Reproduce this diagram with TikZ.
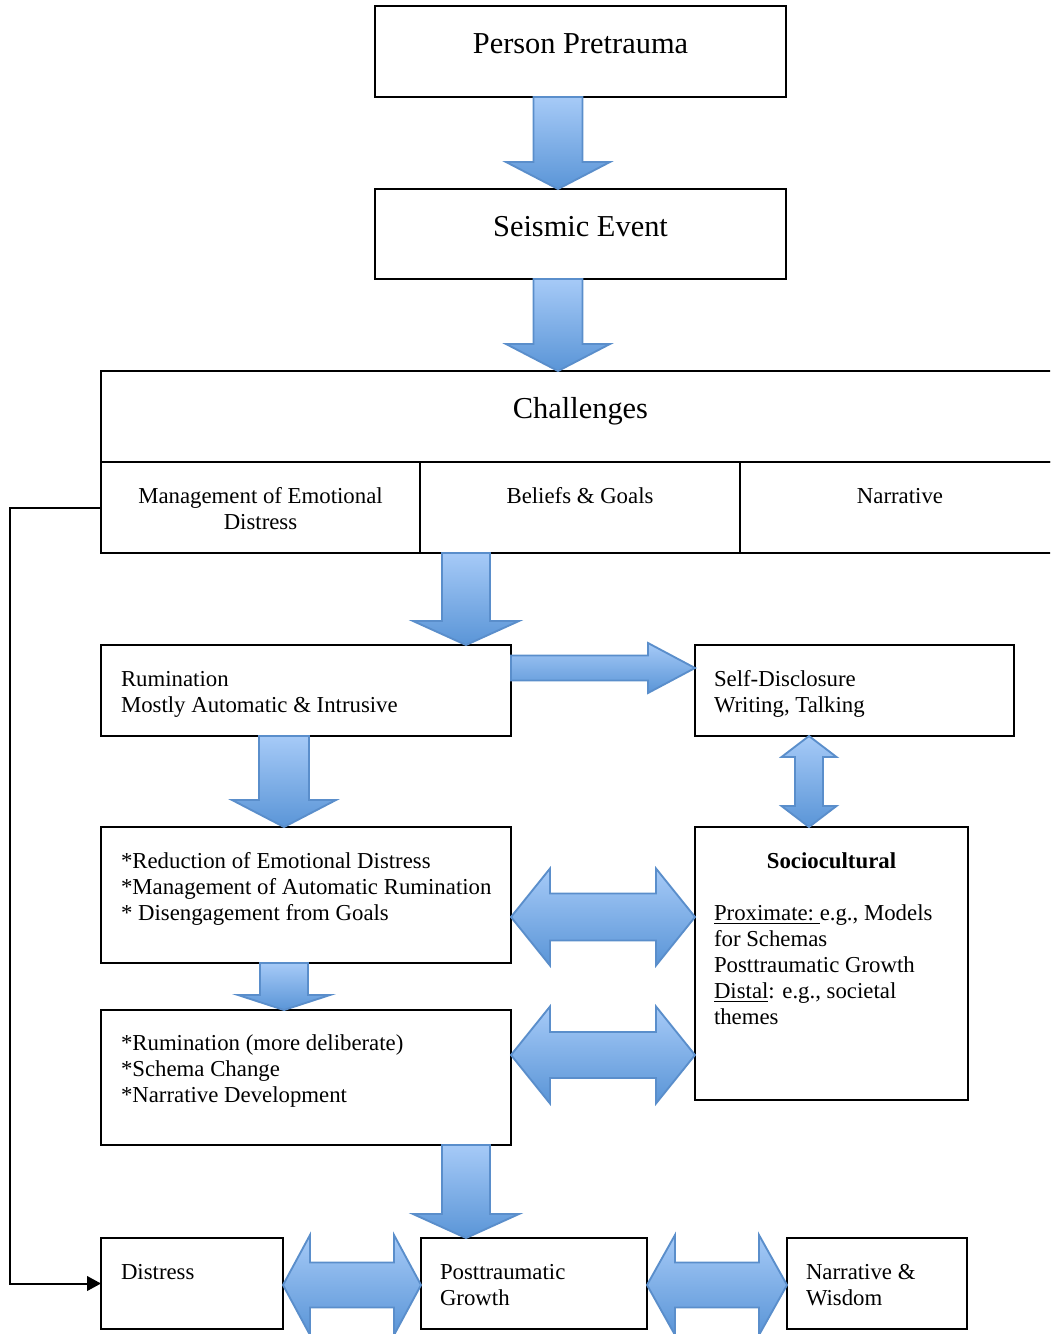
\documentclass[tikz,border=0pt]{standalone}
\usepackage{fontspec}
\setmainfont{Liberation Serif}
\usetikzlibrary{calc,arrows.meta}
\definecolor{arrTop}{HTML}{A6CAF7}
\definecolor{arrBot}{HTML}{5A95D7}
\definecolor{arrEdge}{HTML}{5A8ECB}
\tikzset{
 box/.style={draw, line width=1.5pt, anchor=north west, inner sep=0pt, outer sep=0pt},
 barrow/.style={top color=arrTop, bottom color=arrBot, draw=arrEdge, line width=1.4pt, line join=miter},
 txt/.style={font=\fontsize{17.1}{19.5}\selectfont, inner sep=0pt, outer sep=0pt, anchor=north west, align=left},
 big/.style={font=\fontsize{22.8}{27}\selectfont, inner sep=0pt, anchor=base},
 conn/.style={line width=1.5pt, -{Triangle[length=10.5pt,width=11pt]}},
}
% box: name, x1, y1, x2, y2 (pixels)
\newcommand\bx[5]{\node[box, minimum width={(#4-#2)*0.75pt}, minimum height={(#5-#3)*0.75pt}] (#1) at (#2,#3) {};}
% block arrow down: from, to, x, shaft half width, head half width, head length
\newcommand\bdown[6]{\path[barrow] let \p1=(#1), \p2=(#2), \p3=(#3,0), \p4=(#4,#6), \p5=(#5,0) in
 (\x3-\x4,\y1) -- (\x3+\x4,\y1) -- (\x3+\x4,\y2-\y4) -- (\x3+\x5,\y2-\y4) -- (\x3,\y2) -- (\x3-\x5,\y2-\y4) -- (\x3-\x4,\y2-\y4) -- cycle;}
% block arrow right: from, to, y, shaft half height, head half height, head length
\newcommand\bright[6]{\path[barrow] let \p1=(#1), \p2=(#2), \p3=(0,#3), \p4=(#6,#4), \p5=(0,#5) in
 (\x1,\y3-\y4) -- (\x2-\x4,\y3-\y4) -- (\x2-\x4,\y3-\y5) -- (\x2,\y3) -- (\x2-\x4,\y3+\y5) -- (\x2-\x4,\y3+\y4) -- (\x1,\y3+\y4) -- cycle;}
% double horizontal
\newcommand\bdoubleh[6]{\path[barrow] let \p1=(#1), \p2=(#2), \p3=(0,#3), \p4=(#6,#4), \p5=(0,#5) in
 (\x1,\y3) -- (\x1+\x4,\y3-\y5) -- (\x1+\x4,\y3-\y4) -- (\x2-\x4,\y3-\y4) -- (\x2-\x4,\y3-\y5) -- (\x2,\y3) -- (\x2-\x4,\y3+\y5) -- (\x2-\x4,\y3+\y4) -- (\x1+\x4,\y3+\y4) -- (\x1+\x4,\y3+\y5) -- cycle;}
% double vertical
\newcommand\bdoublev[6]{\path[barrow] let \p1=(#1), \p2=(#2), \p3=(#3,0), \p4=(#4,#6), \p5=(#5,0) in
 (\x3,\y1) -- (\x3+\x5,\y1+\y4) -- (\x3+\x4,\y1+\y4) -- (\x3+\x4,\y2-\y4) -- (\x3+\x5,\y2-\y4) -- (\x3,\y2) -- (\x3-\x5,\y2-\y4) -- (\x3-\x4,\y2-\y4) -- (\x3-\x4,\y1+\y4) -- (\x3-\x5,\y1+\y4) -- cycle;}
\begin{document}
\begin{tikzpicture}[x=0.75pt,y=-0.75pt]
\useasboundingbox (0,0) rectangle (1050,1334);
\fill[white] (0,0) rectangle (1050,1334);
\clip (0,0) rectangle (1050,1334);
% boxes
\bx{pp}{375}{6}{786}{97}
\bx{se}{375}{189}{786}{279}
\bx{chal}{101}{371}{1060}{462}
\bx{mgmt}{101}{462}{420}{553}
\bx{bel}{420}{462}{740}{553}
\bx{narr}{740}{462}{1060}{553}
\bx{rum}{101}{645}{511}{736}
\bx{sd}{695}{645}{1014}{736}
\bx{red}{101}{827}{511}{963}
\bx{soc}{695}{827}{968}{1100}
\bx{rumb}{101}{1010}{511}{1145}
\bx{dis}{101}{1238}{283}{1329}
\bx{ptg}{421}{1238}{647}{1329}
\bx{nw}{787}{1238}{967}{1329}
% texts
\node[big] (tpp) at (580.5,54) {Person Pretrauma};
\node[big] (tse) at (580.5,236) {Seismic Event};
\node[big] (tch) at (580.5,418) {Challenges};
\node[txt, anchor=north, align=center] (tmg) at (260.5,485.5) {\strut Management of Emotional\\Distress};
\node[txt, anchor=north, align=center] (tbe) at (580,485.5) {\strut Beliefs \& Goals};
\node[txt, anchor=north, align=center] (tna) at (900,485.5) {\strut Narrative};
\node[txt] (tru) at (121,668.5) {\strut Rumination\\Mostly Automatic \& Intrusive};
\node[txt] (tsd) at (714,668.5) {\strut Self-Disclosure\\Writing, Talking};
\node[txt] (tre) at (121,850.5) {\strut *Reduction of Emotional Distress\\*Management of Automatic Rumination\\* Disengagement from Goals};
\node[font=\fontsize{17.1}{19.5}\selectfont\bfseries, inner sep=0pt, anchor=base] (tso) at (831.5,868) {Sociocultural};
\node[txt] (tsb) at (714,902.5) {\strut\underline{Proximate:\ }e.g., Models\\for Schemas\\Posttraumatic Growth\\\underline{Distal}: e.g., societal\\themes};
\node[txt] (trb) at (121,1032.5) {\strut *Rumination (more deliberate)\\*Schema Change\\*Narrative Development};
\node[txt] (tdi) at (121,1261.5) {\strut Distress};
\node[txt] (tpg) at (440,1261.5) {\strut Posttraumatic\\Growth};
\node[txt] (tnw) at (806,1261.5) {\strut Narrative \&\\Wisdom};
% block arrows
\bdown{pp.south}{se.north}{558}{24.5}{52}{27}
\bdown{se.south}{chal.north}{558}{24.5}{52}{27}
\bdown{bel.south}{rum.north}{466}{24}{53}{24}
\bright{rum.east}{sd.west}{668}{12.5}{25}{47}
\bdoublev{sd.south}{soc.north}{809}{14}{27.5}{21}
\bdown{rum.south}{red.north}{284}{25}{52}{27}
\bdown{red.south}{rumb.north}{284}{24}{46}{15}
\bdoubleh{red.east}{soc.west}{917}{23.5}{48.5}{39}
\bdoubleh{rumb.east}{soc.west}{1055}{23}{48.5}{39}
\bdown{rumb.south}{ptg.north}{466}{24}{53}{24}
\bdoubleh{dis.east}{ptg.west}{1285}{22.5}{50}{27}
\bdoubleh{ptg.east}{nw.west}{1285}{22.5}{50}{28}
% thin connector
\draw[conn] (mgmt.west) -- ++(-91,0) |- (dis.west);
\end{tikzpicture}
\end{document}
